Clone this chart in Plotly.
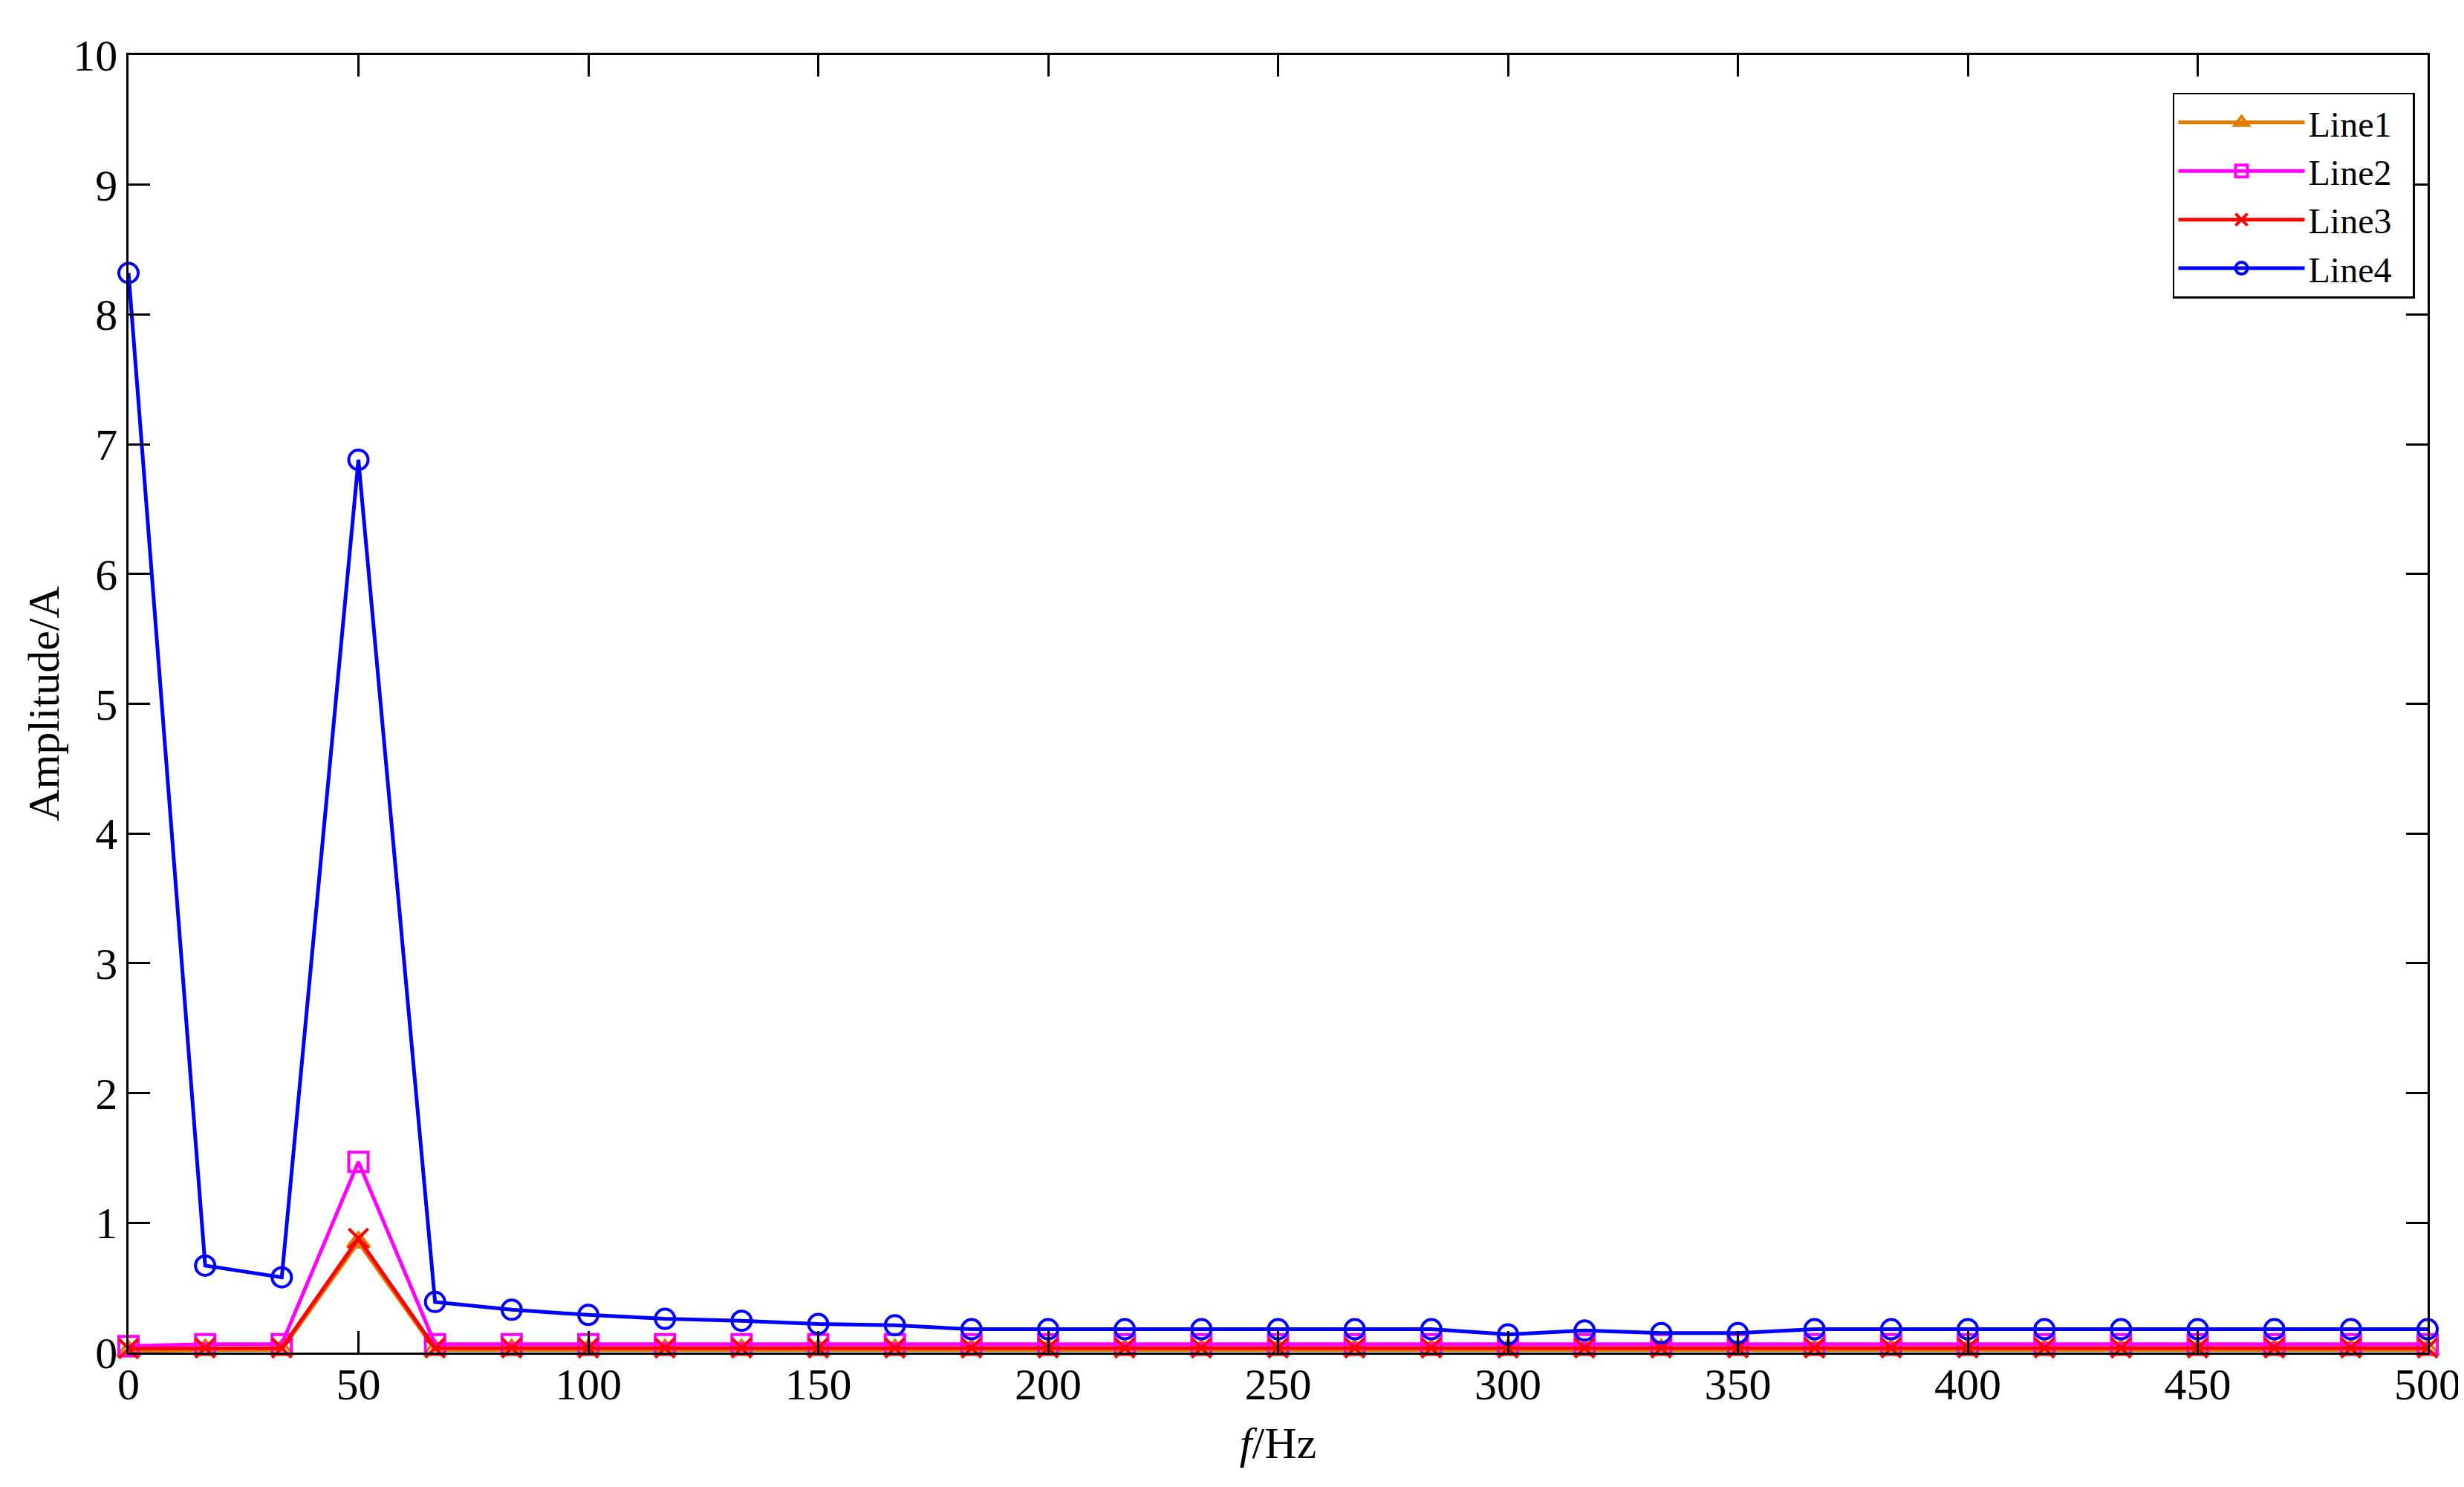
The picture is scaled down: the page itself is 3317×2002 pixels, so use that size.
import plotly.graph_objects as go

# frequency axis, Hz
freq = [0, 16.67, 33.33, 50, 66.67, 83.33, 100, 116.67, 133.33, 150,
        166.67, 183.33, 200, 216.67, 233.33, 250, 266.67, 283.33, 300, 316.67,
        333.33, 350, 366.67, 383.33, 400, 416.67, 433.33, 450, 466.67, 483.33, 500]

line1 = [0.01, 0.02, 0.02, 0.85, 0.02, 0.02, 0.02, 0.02, 0.02, 0.02,
         0.02, 0.02, 0.02, 0.02, 0.02, 0.02, 0.02, 0.02, 0.02, 0.02,
         0.02, 0.02, 0.02, 0.02, 0.02, 0.02, 0.02, 0.02, 0.02, 0.02, 0.02]
line2 = [0.05, 0.065, 0.065, 1.47, 0.065, 0.065, 0.065, 0.065, 0.065, 0.065,
         0.065, 0.065, 0.065, 0.065, 0.065, 0.065, 0.065, 0.065, 0.065, 0.065,
         0.065, 0.065, 0.065, 0.065, 0.065, 0.065, 0.065, 0.065, 0.065, 0.065, 0.065]
line3 = [0.03, 0.035, 0.035, 0.88, 0.035, 0.035, 0.035, 0.035, 0.035, 0.035,
         0.035, 0.035, 0.035, 0.035, 0.035, 0.035, 0.035, 0.035, 0.035, 0.035,
         0.035, 0.035, 0.035, 0.035, 0.035, 0.035, 0.035, 0.035, 0.035, 0.035, 0.035]
line4 = [8.32, 0.67, 0.58, 6.88, 0.39, 0.33, 0.29, 0.26, 0.245, 0.22,
         0.21, 0.18, 0.18, 0.18, 0.18, 0.18, 0.18, 0.18, 0.14, 0.17,
         0.15, 0.15, 0.18, 0.18, 0.18, 0.18, 0.18, 0.18, 0.18, 0.18, 0.18]

names = ["Line1", "Line2", "Line3", "Line4"]
FONT = "Liberation Serif"

series = [
    (line1, "#DE7D00", "triangle-up-open"),
    (line2, "#FF00FF", "square-open"),
    (line3, "#FF0000", "x-thin"),
    (line4, "#0000FF", "circle-open"),
]

fig = go.Figure()
for (vals, col, sym), nm in zip(series, names):
    fig.add_trace(go.Scatter(
        x=freq, y=vals, name=nm + "\u00a0\u00a0", mode="lines+markers",
        line=dict(color=col, width=5),
        marker=dict(symbol=sym, size=26, color=col, line=dict(color=col, width=4)),
        cliponaxis=False,
    ))

axis_common = dict(
    showgrid=False, zeroline=False,
    showline=True, linecolor="black", linewidth=2.5, mirror="ticks",
    ticks="inside", ticklen=29, tickwidth=2.5, tickcolor="black",
    tickfont=dict(family=FONT, size=60, color="black"),
)

fig.update_xaxes(range=[0, 500], tick0=0, dtick=50, ticklabelstandoff=-12,
                 title=dict(text="<i>f</i>/Hz", font=dict(family=FONT, size=60, color="black"), standoff=26),
                 **axis_common)
fig.update_yaxes(range=[0, 10], tick0=0, dtick=1,
                 title=dict(text="Amplitude/A", font=dict(family=FONT, size=60, color="black"), standoff=0),
                 **axis_common)

fig.update_layout(
    width=3317, height=2002,
    paper_bgcolor="white", plot_bgcolor="white",
    margin=dict(l=165, r=57, t=66, b=189),
    font=dict(family=FONT, color="black"),
    legend=dict(
        x=0.9945, y=0.971, xanchor="right", yanchor="top",
        bgcolor="white", bordercolor="black", borderwidth=2.5,
        font=dict(family=FONT, size=48, color="black"),
        itemwidth=170, tracegroupgap=0,
    ),
    showlegend=True,
)

fig.write_html("out.html")
